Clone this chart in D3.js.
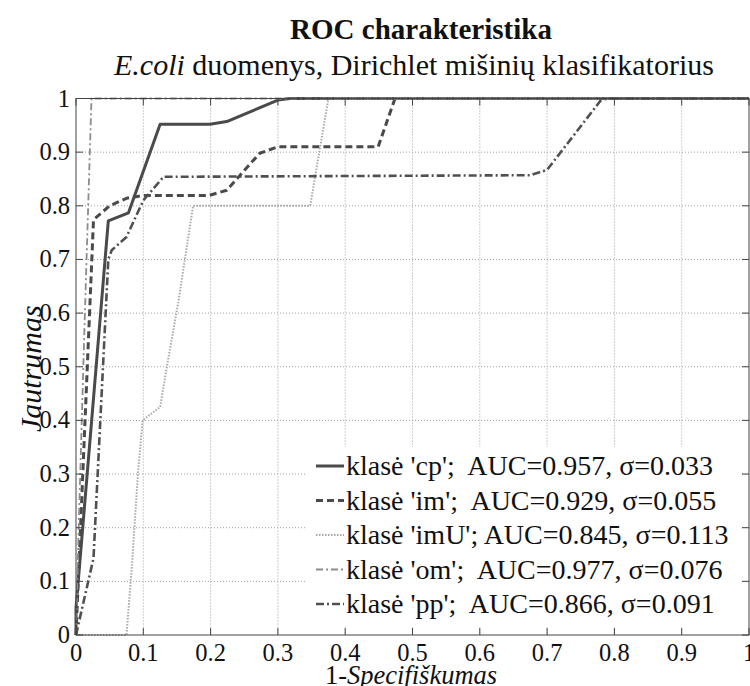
<!DOCTYPE html>
<html>
<head>
<meta charset="utf-8">
<script src="https://cdn.jsdelivr.net/npm/d3@7"></script>
<style>
  html, body { margin: 0; padding: 0; background: #fff; }
  svg text { font-family: "Liberation Serif", "Times New Roman", serif; fill: #111; }
</style>
</head>
<body>
<svg id="chart" width="750" height="686"></svg>
<script>
// ROC curves per class (false positive rate vs. true positive rate)
const cpFpr  = [0, 0, 0.048, 0.078, 0.125, 0.199, 0.224, 0.300, 0.318, 1];
const cpTpr  = [0, 0.05, 0.772, 0.787, 0.952, 0.952, 0.957, 0.997, 1, 1];

const imFpr  = [0, 0.026, 0.050, 0.075, 0.098, 0.197, 0.224, 0.273, 0.300, 0.449, 0.474, 1];
const imTpr  = [0, 0.774, 0.800, 0.814, 0.819, 0.819, 0.829, 0.898, 0.910, 0.910, 1, 1];

const imUFpr = [0, 0.075, 0.083, 0.092, 0.099, 0.125, 0.135, 0.152, 0.174, 0.348, 0.375, 1];
const imUTpr = [0, 0, 0.127, 0.300, 0.400, 0.425, 0.500, 0.620, 0.800, 0.800, 1, 1];

const omFpr  = [0, 0.004, 0.012, 0.023, 1];
const omTpr  = [0, 0.20, 0.55, 1, 1];

const ppFpr  = [0, 0.026, 0.048, 0.053, 0.075, 0.100, 0.130, 0.675, 0.700, 0.780, 0.790, 1];
const ppTpr  = [0, 0.143, 0.700, 0.717, 0.742, 0.810, 0.854, 0.857, 0.867, 0.997, 1, 1];

const classNames = ["cp", "im", "imU", "om", "pp"];
const aucValues  = ["0.957", "0.929", "0.845", "0.977", "0.866"];
const sigmaValues = ["0.033", "0.055", "0.113", "0.076", "0.091"];

const xTicks = [0, 0.1, 0.2, 0.3, 0.4, 0.5, 0.6, 0.7, 0.8, 0.9, 1];
const yTicks = [0, 0.1, 0.2, 0.3, 0.4, 0.5, 0.6, 0.7, 0.8, 0.9, 1];

const svg = d3.select("#chart");
const plotLeft = 76, plotRight = 749, plotTop = 98.5, plotBottom = 635;

const x = d3.scaleLinear().domain([0, 1]).range([plotLeft, plotRight]);
const y = d3.scaleLinear().domain([0, 1]).range([plotBottom, plotTop]);

// Titles
svg.append("text")
  .attr("x", 421).attr("y", 39)
  .attr("text-anchor", "middle")
  .attr("font-size", 29).attr("font-weight", "bold")
  .text("ROC charakteristika");

const sub = svg.append("text")
  .attr("x", 414).attr("y", 75)
  .attr("text-anchor", "middle")
  .attr("font-size", 30);
sub.append("tspan").attr("font-style", "italic").text("E.coli");
sub.append("tspan").text(" duomenys, Dirichlet mišinių klasifikatorius");

// Grid
const grid = svg.append("g").attr("stroke", "#a0a0a0").attr("stroke-width", 1)
  .attr("stroke-dasharray", "1,2");
grid.selectAll("line.gx").data(xTicks.slice(1, -1)).join("line")
  .attr("x1", d => x(d)).attr("x2", d => x(d))
  .attr("y1", plotTop).attr("y2", plotBottom);
grid.selectAll("line.gy").data(yTicks.slice(1, -1)).join("line")
  .attr("x1", plotLeft).attr("x2", plotRight)
  .attr("y1", d => y(d)).attr("y2", d => y(d));

// Curves
const series = [
  { fpr: cpFpr,  tpr: cpTpr,  color: "#4a4a4a", width: 3,   dash: null },
  { fpr: imFpr,  tpr: imTpr,  color: "#4a4a4a", width: 3,   dash: "7,4" },
  { fpr: imUFpr, tpr: imUTpr, color: "#a8a8a8", width: 2,   dash: "1.5,1.5" },
  { fpr: omFpr,  tpr: omTpr,  color: "#8c8c8c", width: 1.8, dash: "7,3,2,3" },
  { fpr: ppFpr,  tpr: ppTpr,  color: "#505050", width: 2.6, dash: "8,3,2,3" }
];

const line = d3.line().x(d => x(d[0])).y(d => y(d[1]));

series.forEach(s => {
  svg.append("path")
    .datum(d3.zip(s.fpr, s.tpr))
    .attr("fill", "none")
    .attr("stroke", s.color)
    .attr("stroke-width", s.width)
    .attr("stroke-dasharray", s.dash)
    .attr("stroke-linejoin", "round")
    .attr("d", line);
});

// Legend
const legend = svg.append("g");
legend.append("rect")
  .attr("x", 306).attr("y", 447).attr("width", 434).attr("height", 180)
  .attr("fill", "#fff");
const rowY = d3.scaleLinear().domain([0, 4]).range([466, 604]);
const seps = [";  ", ";  ", "; ", ";  ", ";  "];
classNames.forEach((c, i) => {
  const s = series[i];
  const yy = rowY(i);
  legend.append("line")
    .attr("x1", 316).attr("x2", 344)
    .attr("y1", yy).attr("y2", yy)
    .attr("stroke", s.color).attr("stroke-width", s.width)
    .attr("stroke-dasharray", s.dash);
  legend.append("text")
    .attr("x", 346).attr("y", yy + 9)
    .attr("font-size", 28)
    .style("white-space", "pre")
    .text(`klasė '${c}'${seps[i]}AUC=${aucValues[i]}, σ=${sigmaValues[i]}`);
});

// Axes box and inward ticks
const axisColor = "#444";
svg.append("rect")
  .attr("x", plotLeft).attr("y", plotTop)
  .attr("width", plotRight - plotLeft).attr("height", plotBottom - plotTop)
  .attr("fill", "none").attr("stroke", axisColor).attr("stroke-width", 1);

const tickLen = 7;
const ticks = svg.append("g").attr("stroke", axisColor).attr("stroke-width", 1);
xTicks.forEach(t => {
  ticks.append("line").attr("x1", x(t)).attr("x2", x(t)).attr("y1", plotBottom).attr("y2", plotBottom - tickLen);
  ticks.append("line").attr("x1", x(t)).attr("x2", x(t)).attr("y1", plotTop).attr("y2", plotTop + tickLen);
});
yTicks.forEach(t => {
  ticks.append("line").attr("x1", plotLeft).attr("x2", plotLeft + tickLen).attr("y1", y(t)).attr("y2", y(t));
  ticks.append("line").attr("x1", plotRight).attr("x2", plotRight - tickLen).attr("y1", y(t)).attr("y2", y(t));
});

// Tick labels
const fmt = d => d === 0 ? "0" : d === 1 ? "1" : d3.format(".1f")(d);
svg.append("g").selectAll("text").data(xTicks).join("text")
  .attr("x", d => x(d)).attr("y", 661)
  .attr("text-anchor", "middle").attr("font-size", 24.5)
  .text(fmt);
svg.append("g").selectAll("text").data(yTicks).join("text")
  .attr("x", 70).attr("y", d => y(d) + 8)
  .attr("text-anchor", "end").attr("font-size", 24.5)
  .text(fmt);

// Axis titles
svg.append("text")
  .attr("transform", `translate(41, ${(plotTop + plotBottom) / 2 + 2}) rotate(-90)`)
  .attr("text-anchor", "middle").attr("font-size", 30).attr("font-style", "italic")
  .text("Jautrumas");

const xt = svg.append("text")
  .attr("x", 411).attr("y", 684)
  .attr("text-anchor", "middle").attr("font-size", 26.5);
xt.append("tspan").text("1-");
xt.append("tspan").attr("font-style", "italic").text("Specifiškumas");
</script>
</body>
</html>
